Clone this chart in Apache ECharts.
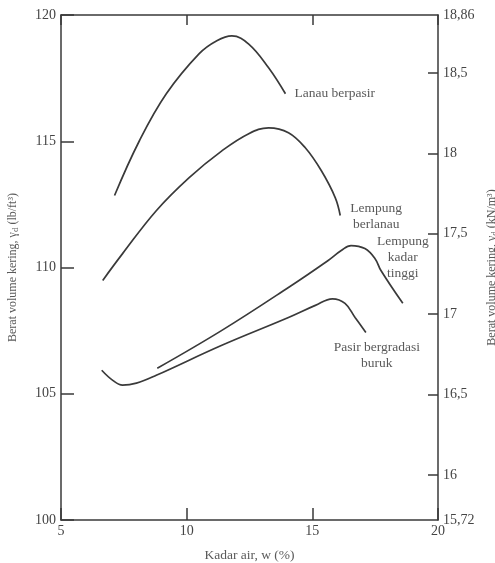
<!DOCTYPE html>
<html>
<head>
    <meta charset="utf-8">
    <title>Kurva pemadatan</title>
    <script src="https://cdn.jsdelivr.net/npm/echarts@6/dist/echarts.min.js"></script>
    <style>
        html, body { margin: 0; padding: 0; background: #fff; }
        #chart { width: 495px; height: 563px; }
    </style>
</head>
<body>
    <div id="chart"></div>
    <script>
        // kadar air w (%) vs berat volume kering (lb/ft3)
        var lanauBerpasir = [[7.13, 112.85], [8.12, 115.02], [9.19, 116.88], [10.49, 118.46], [11.20, 118.98], [11.80, 119.17], [12.47, 118.85], [13.26, 117.91], [13.93, 116.88]];
        var lempungBerlanau = [[6.66, 109.49], [7.45, 110.55], [8.79, 112.25], [10.10, 113.56], [11.40, 114.62], [12.47, 115.30], [13.26, 115.53], [14.05, 115.34], [14.72, 114.74], [15.36, 113.83], [15.91, 112.77], [16.11, 112.06]];
        var lempungKadarTinggi = [[8.83, 106.01], [11.40, 107.51], [14.05, 109.21], [15.63, 110.28], [16.15, 110.67], [16.54, 110.87], [17.09, 110.75], [17.49, 110.36], [17.73, 109.88], [18.60, 108.58]];
        var pasirBergradasi = [[6.62, 105.93], [7.06, 105.53], [7.45, 105.34], [8.00, 105.42], [8.79, 105.73], [11.40, 106.92], [14.05, 108.02], [15.12, 108.50], [15.80, 108.76], [16.30, 108.58], [16.70, 108.02], [17.13, 107.43]];
        var kNTicks = [15.72, 16, 16.5, 17, 17.5, 18, 18.5, 18.86];

        var serif = '"Liberation Serif", "DejaVu Serif", serif';
        var ink = '#3a3a3a';
        var soft = '#5a5a5a';

        function curve(name, data, label, align, offset) {
            return {
                name: name, type: 'line', data: data, smooth: 0.4,
                showSymbol: false, silent: true,
                lineStyle: { color: ink, width: 1.7 },
                endLabel: {
                    show: true, formatter: label, align: align, verticalAlign: 'middle',
                    distance: 0, offset: offset,
                    fontFamily: serif, fontSize: 13.5, color: soft, lineHeight: 16
                }
            };
        }

        var subStyle = { s: { fontFamily: serif, fontSize: 9, color: soft, padding: [6, 0, 0, 0] } };

        var chart = echarts.init(document.getElementById('chart'));
        chart.setOption({
            animation: false,
            grid: { left: 61, right: 57, top: 15, bottom: 43, outerBoundsMode: 'none' },
            xAxis: [{
                type: 'value', min: 5, max: 20, interval: 5,
                name: 'Kadar air, w (%)', nameLocation: 'middle', nameGap: 28,
                nameTextStyle: { fontFamily: serif, fontSize: 13.5, color: soft },
                axisLine: { lineStyle: { color: ink, width: 1.5 } },
                axisTick: { inside: true, length: 12, lineStyle: { color: ink, width: 1.5 } },
                axisLabel: { fontFamily: serif, fontSize: 14, color: '#444', margin: 4 },
                splitLine: { show: false }
            }, {
                type: 'value', position: 'top', min: 5, max: 20, interval: 5,
                axisLine: { show: true, lineStyle: { color: ink, width: 1.5 } },
                axisTick: { inside: true, length: 10, lineStyle: { color: ink, width: 1.5 } },
                axisLabel: { show: false },
                splitLine: { show: false }
            }],
            yAxis: [{
                type: 'value', min: 100, max: 120, interval: 5,
                name: 'Berat volume kering, γ{s|d} (lb/ft³)', nameLocation: 'middle', nameGap: 41, nameRotate: 90,
                nameTextStyle: { fontFamily: serif, fontSize: 12, color: soft, rich: subStyle },
                axisLine: { show: true, lineStyle: { color: ink, width: 1.5 } },
                axisTick: { inside: true, length: 13, lineStyle: { color: ink, width: 1.5 } },
                axisLabel: { fontFamily: serif, fontSize: 14, color: '#444', margin: 5 },
                splitLine: { show: false }
            }, {
                type: 'value', position: 'right', min: 15.72, max: 18.86,
                name: 'Berat volume kering, γ{s|d} (kN/m³)', nameLocation: 'middle', nameGap: 36, nameRotate: 90,
                nameTextStyle: { fontFamily: serif, fontSize: 12, color: soft, rich: subStyle },
                axisLine: { show: true, lineStyle: { color: ink, width: 1.5 } },
                axisTick: { inside: true, length: 10, customValues: kNTicks.slice(1, -1), lineStyle: { color: ink, width: 1.5 } },
                axisLabel: {
                    fontFamily: serif, fontSize: 14, color: '#444', margin: 5, customValues: kNTicks,
                    formatter: function (v) { return String(v).replace('.', ','); }
                },
                splitLine: { show: false }
            }],
            series: [
                curve('Lanau berpasir', lanauBerpasir, 'Lanau berpasir', 'left', [9, 0]),
                curve('Lempung berlanau', lempungBerlanau, 'Lempung\nberlanau', 'center', [36, 1]),
                curve('Lempung kadar tinggi', lempungKadarTinggi, 'Lempung\nkadar\ntinggi', 'center', [0, -46]),
                curve('Pasir bergradasi buruk', pasirBergradasi, 'Pasir bergradasi\nburuk', 'center', [11, 23])
            ]
        });
    </script>
</body>
</html>
